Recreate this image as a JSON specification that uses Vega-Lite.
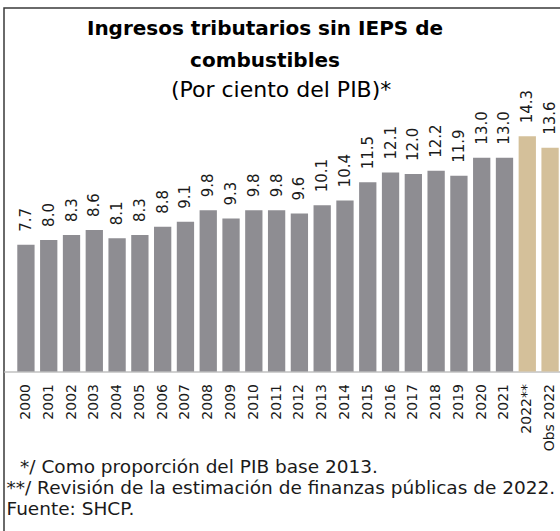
{
  "$schema": "https://vega.github.io/schema/vega-lite/v6.json",
  "width": 568,
  "height": 530,
  "autosize": "none",
  "padding": {"left": 4, "top": 8, "right": 0, "bottom": 0},
  "background": "white",
  "config": {
    "view": {"stroke": "#3a3a3a", "strokeWidth": 1.5},
    "font": "DejaVu Sans"
  },
  "title": {
    "text": ["Ingresos tributarios sin IEPS de", "combustibles"],
    "subtitle": "\u2800\u2800(Por ciento del PIB)*",
    "anchor": "middle",
    "frame": "group",
    "dx": -23,
    "offset": -93,
    "fontSize": 20,
    "fontWeight": "bold",
    "font": "DejaVu Sans",
    "color": "#000000",
    "lineHeight": 32,
    "subtitleFontSize": 22,
    "subtitleFont": "DejaVu Sans",
    "subtitleColor": "#000000",
    "subtitlePadding": 9,
    "subtitleLineHeight": 26
  },
  "data": {
    "values": [
      {"year": "2000", "value": 7.7, "kind": "hist"},
      {"year": "2001", "value": 8.0, "kind": "hist"},
      {"year": "2002", "value": 8.3, "kind": "hist"},
      {"year": "2003", "value": 8.6, "kind": "hist"},
      {"year": "2004", "value": 8.1, "kind": "hist"},
      {"year": "2005", "value": 8.3, "kind": "hist"},
      {"year": "2006", "value": 8.8, "kind": "hist"},
      {"year": "2007", "value": 9.1, "kind": "hist"},
      {"year": "2008", "value": 9.8, "kind": "hist"},
      {"year": "2009", "value": 9.3, "kind": "hist"},
      {"year": "2010", "value": 9.8, "kind": "hist"},
      {"year": "2011", "value": 9.8, "kind": "hist"},
      {"year": "2012", "value": 9.6, "kind": "hist"},
      {"year": "2013", "value": 10.1, "kind": "hist"},
      {"year": "2014", "value": 10.4, "kind": "hist"},
      {"year": "2015", "value": 11.5, "kind": "hist"},
      {"year": "2016", "value": 12.1, "kind": "hist"},
      {"year": "2017", "value": 12.0, "kind": "hist"},
      {"year": "2018", "value": 12.2, "kind": "hist"},
      {"year": "2019", "value": 11.9, "kind": "hist"},
      {"year": "2020", "value": 13.0, "kind": "hist"},
      {"year": "2021", "value": 13.0, "kind": "hist"},
      {"year": "2022**", "value": 14.3, "kind": "est"},
      {"year": "Obs 2022", "value": 13.6, "kind": "est"}
    ]
  },
  "encoding": {
    "x": {
      "field": "year",
      "type": "nominal",
      "sort": null,
      "scale": {"paddingInner": 0.241, "paddingOuter": 0.583},
      "axis": {
        "orient": "bottom",
        "offset": -166.5,
        "labelAngle": 270,
        "labelAlign": "right",
        "labelBaseline": "middle",
        "labelPadding": 12,
        "labelOverlap": false,
        "ticks": false,
        "grid": false,
        "domainColor": "#d0d0d0",
        "domainWidth": 2,
        "labelFontSize": 14,
        "labelColor": "#1a1a1a",
        "labelFont": "DejaVu Sans",
        "title": ["\u2800*/ Como proporción del PIB base 2013.", "**/ Revisión de la estimación de finanzas públicas de 2022.", "Fuente: SHCP."],
        "titleAnchor": "start",
        "titleAlign": "left",
        "titleAngle": 0,
        "titleBaseline": "alphabetic",
        "titleX": 2,
        "titleY": 100.5,
        "titleFont": "DejaVu Sans",
        "titleFontSize": 18.5,
        "titleFontWeight": "normal",
        "titleColor": "#1a1a1a",
        "titleLineHeight": 21
      }
    },
    "y": {
      "field": "value",
      "type": "quantitative",
      "scale": {"domain": [-10.122, 22.097], "nice": false, "zero": false},
      "axis": null
    }
  },
  "layer": [
    {
      "mark": {"type": "bar"},
      "encoding": {
        "y2": {"datum": 0},
        "color": {
          "field": "kind",
          "type": "nominal",
          "scale": {"domain": ["hist", "est"], "range": ["#8e8d92", "#d4c09a"]},
          "legend": null
        }
      }
    },
    {
      "mark": {"type": "text", "angle": 270, "align": "left", "baseline": "middle", "dx": 13, "fontSize": 15, "color": "#1a1a1a", "font": "DejaVu Sans"},
      "encoding": {
        "text": {"field": "value", "type": "quantitative", "format": ".1f"}
      }
    }
  ]
}
